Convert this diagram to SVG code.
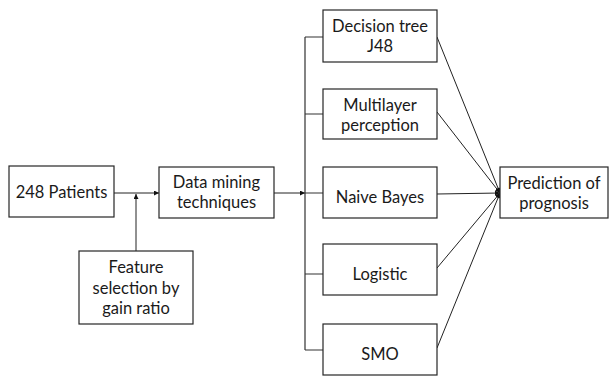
<svg xmlns="http://www.w3.org/2000/svg" width="610" height="377" viewBox="0 0 610 377">
  <style>
    .box { fill: #ffffff; stroke: #262626; stroke-width: 1.2; }
    .lbl { font-family: Lato, "Liberation Sans", Arial, sans-serif; font-size: 16.5px; fill: #1a1a1a; text-anchor: middle; }
    .wire { fill: none; stroke: #333333; stroke-width: 1.2; }
    .arr { fill: none; stroke: #222222; stroke-width: 1; marker-end: url(#head); }
  </style>
  <defs>
    <marker id="head" viewBox="0 0 10 10" refX="10" refY="5" markerWidth="6" markerHeight="5" markerUnits="userSpaceOnUse" orient="auto">
      <path d="M0,0 L10,5 L0,10 z" fill="#111111"/>
    </marker>
  </defs>
  <rect width="610" height="377" fill="#ffffff"/>

  <g id="connectors">
    <line class="arr" x1="114" y1="193" x2="159" y2="193"/>
    <line class="arr" x1="136" y1="251" x2="136" y2="194"/>
    <line class="arr" x1="274" y1="193" x2="305" y2="193"/>
    <path class="wire" d="M305,37 V350 M305,37 H323 M305,114 H323 M305,193 H323 M305,274 H323 M305,350 H323"/>
    <line class="arr" x1="437" y1="37" x2="500" y2="193"/>
    <line class="arr" x1="437" y1="112" x2="500" y2="193"/>
    <line class="arr" x1="437" y1="194" x2="500" y2="193"/>
    <line class="arr" x1="437" y1="268" x2="500" y2="193"/>
    <line class="arr" x1="437" y1="348" x2="500" y2="193"/>
  </g>

  <g id="patients">
    <rect class="box" x="9" y="166" width="105" height="51"/>
    <text class="lbl" x="61.5" y="198">248 Patients</text>
  </g>
  <g id="data-mining">
    <rect class="box" x="159" y="167" width="115" height="51"/>
    <text class="lbl" x="216.5" y="188">Data mining</text>
    <text class="lbl" x="216.5" y="208">techniques</text>
  </g>
  <g id="feature-selection">
    <rect class="box" x="79" y="251" width="114" height="73"/>
    <text class="lbl" x="136" y="273">Feature</text>
    <text class="lbl" x="136" y="294">selection by</text>
    <text class="lbl" x="136" y="314">gain ratio</text>
  </g>
  <g id="decision-tree">
    <rect class="box" x="323" y="10" width="114" height="52"/>
    <text class="lbl" x="380" y="32">Decision tree</text>
    <text class="lbl" x="380" y="52">J48</text>
  </g>
  <g id="multilayer">
    <rect class="box" x="323" y="89" width="114" height="50"/>
    <text class="lbl" x="380" y="111">Multilayer</text>
    <text class="lbl" x="380" y="131">perception</text>
  </g>
  <g id="naive-bayes">
    <rect class="box" x="323" y="167" width="114" height="51"/>
    <text class="lbl" x="380" y="203">Naive Bayes</text>
  </g>
  <g id="logistic">
    <rect class="box" x="323" y="244" width="114" height="51"/>
    <text class="lbl" x="380" y="280">Logistic</text>
  </g>
  <g id="smo">
    <rect class="box" x="323" y="324" width="114" height="51"/>
    <text class="lbl" x="380" y="360">SMO</text>
  </g>
  <g id="prediction">
    <rect class="box" x="500" y="167" width="108" height="51"/>
    <text class="lbl" x="554" y="189">Prediction of</text>
    <text class="lbl" x="554" y="209">prognosis</text>
  </g>
</svg>
